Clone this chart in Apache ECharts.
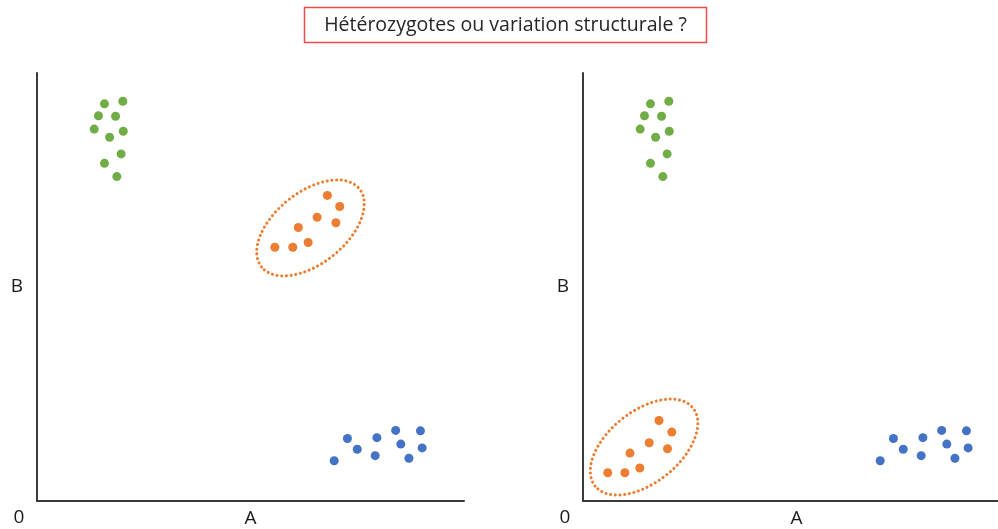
<!DOCTYPE html>
<html>
<head>
<meta charset="utf-8">
<script src="https://cdn.jsdelivr.net/npm/echarts@6/dist/echarts.min.js"></script>
<style>html,body{margin:0;padding:0;background:#fff;overflow:hidden}#c{width:998px;height:529px}</style>
</head>
<body>
<div id="c"></div>
<script>
// ---- data (arbitrary 0-100 units for A and B intensities) ----
const titleText = 'Hétérozygotes ou variation structurale ?';
const axisNameX = 'A';
const axisNameY = 'B';
const originLabel = '0';

const greenPts = [[15.8,92.8],[20.1,93.4],[14.4,90.0],[18.4,89.9],[13.4,86.9],[20.2,86.4],[17.0,85.0],[19.7,81.1],[15.8,78.9],[18.7,75.8]];
const bluePts = [[72.7,14.6],[79.6,14.8],[84.0,16.5],[89.8,16.4],[75.0,12.1],[85.2,13.3],[90.2,12.4],[69.6,9.4],[79.2,10.6],[87.1,10.0]];
const orangeLeft = [[68.0,71.4],[70.9,68.8],[65.6,66.3],[70.0,65.0],[61.2,63.9],[55.7,59.3],[59.9,59.3],[63.5,60.4]];
const orangeRight = [[17.8,18.8],[20.8,16.1],[15.5,13.6],[19.8,12.2],[11.0,11.2],[5.8,6.6],[9.8,6.6],[13.3,7.7]];
const ellipseLeft = [[64.05,63.8]];
const ellipseRight = [[14.3,12.6]];

// ---- styles ----
const GREEN = '#70AD47', ORANGE = '#ED7D31', BLUE = '#4472C4', AXIS = '#3a3a3a';
const FONT = 'Open Sans';
const ELL_RX = 62.6, ELL_RY = 35.7, ELL_ROT = 38.6 * Math.PI / 180;

const chart = echarts.init(document.getElementById('c'), null, {renderer: 'canvas'});

function axisPair(idx) {
  return {
    x: {type:'value', gridIndex: idx, min:0, max:100, name: axisNameX, nameLocation:'middle', nameGap: 8,
        nameTextStyle:{fontFamily: FONT, fontSize: 19, color:'#1a1a1a'},
        axisLine:{show:true, lineStyle:{color: AXIS, width: 2}}, axisTick:{show:false}, axisLabel:{show:false}, splitLine:{show:false}},
    y: {type:'value', gridIndex: idx, min:0, max:100, name: axisNameY, nameLocation:'middle', nameGap: 14, nameRotate: 0,
        nameTextStyle:{fontFamily: FONT, fontSize: 19, color:'#1a1a1a', padding:[5,0,0,0]},
        axisLine:{show:true, lineStyle:{color: AXIS, width: 2}}, axisTick:{show:false}, axisLabel:{show:false}, splitLine:{show:false}}
  };
}
const a0 = axisPair(0), a1 = axisPair(1);

function scatter(data, color, idx) {
  return {type:'scatter', xAxisIndex: idx, yAxisIndex: idx, data, symbol:'circle', symbolSize: 9,
          itemStyle:{color, opacity:1}, silent:true, z: 3};
}
function ellipse(data, idx) {
  return {type:'custom', xAxisIndex: idx, yAxisIndex: idx, data, silent:true, z: 2, clip: false,
    renderItem: function (params, api) {
      const p = api.coord([api.value(0), api.value(1)]);
      return {type:'ellipse', x: p[0], y: p[1], rotation: ELL_ROT,
        shape:{cx:0, cy:0, rx: ELL_RX, ry: ELL_RY},
        style:{fill:'none', stroke: ORANGE, lineWidth: 3, lineDash:[0.1, 4.6], lineCap:'round'}};
    }};
}

chart.setOption({
  animation: false,
  backgroundColor: '#fff',
  grid: [
    {left: 37, top: 73, width: 427, height: 428, outerBoundsMode: 'none', containLabel: false},
    {left: 583, top: 73, width: 427, height: 428, outerBoundsMode: 'none', containLabel: false}
  ],
  xAxis: [a0.x, a1.x],
  yAxis: [a0.y, a1.y],
  series: [
    scatter(greenPts, GREEN, 0), scatter(orangeLeft, ORANGE, 0), scatter(bluePts, BLUE, 0), ellipse(ellipseLeft, 0),
    scatter(greenPts, GREEN, 1), scatter(orangeRight, ORANGE, 1), scatter(bluePts, BLUE, 1), ellipse(ellipseRight, 1)
  ],
  graphic: [
    {type:'rect', shape:{x:304.5, y:7.5, width:402, height:35}, style:{fill:'#fff', stroke:'#F04A4A', lineWidth:1.5}},
    {type:'text', x:505.5, y:25, style:{text: titleText, fontFamily: FONT, fontSize: 19.5, fill:'#262626', align:'center', verticalAlign:'middle'}},
    {type:'text', x:19, y:518, style:{text: originLabel, fontFamily: FONT, fontSize: 19, fill:'#1a1a1a', align:'center', verticalAlign:'middle'}},
    {type:'text', x:565, y:518, style:{text: originLabel, fontFamily: FONT, fontSize: 19, fill:'#1a1a1a', align:'center', verticalAlign:'middle'}}
  ]
});
</script>
</body>
</html>
